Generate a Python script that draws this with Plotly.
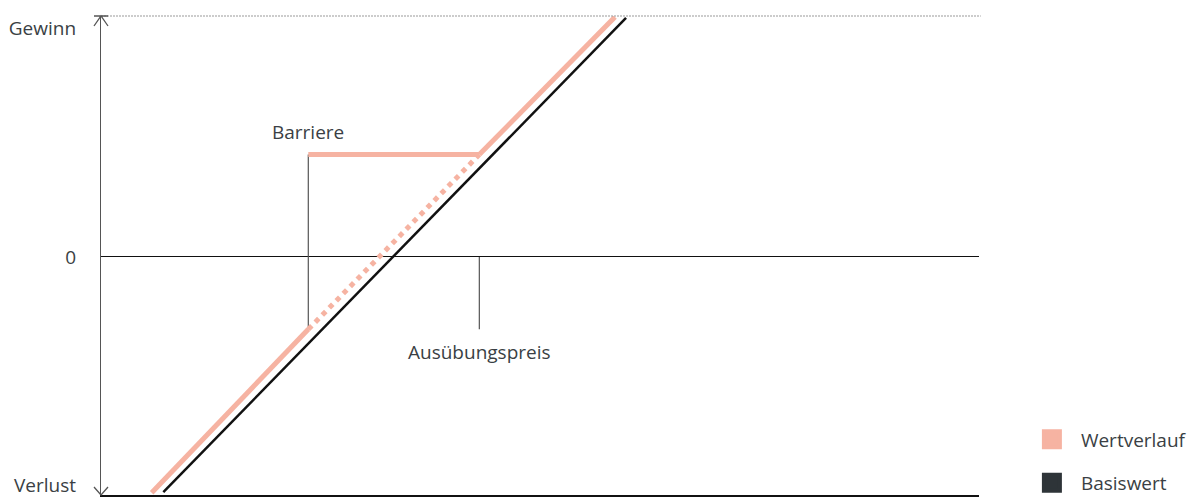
import plotly.graph_objects as go

# ---- data (abstract units: x = underlying price, y = profit/loss) ----
basis_x = [7.10, 59.8]
basis_y = [-97.6, 99.2]

wert_lower_x = [5.77, 23.61]
wert_lower_y = [-97.8, -30.0]
wert_dotted_x = [23.61, 43.09]
wert_dotted_y = [-30.0, 42.5]
wert_cap_x = [23.61, 43.09]
wert_cap_y = [42.5, 42.5]
wert_upper_x = [43.09, 58.54]
wert_upper_y = [42.5, 99.6]

barrier_x = 23.61
barrier_level = 42.5
knock_level = -30.0
strike_x = 43.09

y_tickvals = [-94.8, 0, 95.0]
y_ticktext = ["Verlust", "0", "Gewinn"]

series_names = ["Wertverlauf", "Basiswert"]

PINK = "#F6B3A2"
DARK = "#2E3438"
TEXT = "#3A3F44"
GREY = "#555555"
FONT = "Open Sans"
FS = 19

fig = go.Figure()

# marker lines (barrier / strike)
fig.add_trace(go.Scatter(x=[barrier_x, barrier_x], y=[knock_level, barrier_level], mode="lines",
                         line=dict(color=GREY, width=1.2), showlegend=False, hoverinfo="skip"))
fig.add_trace(go.Scatter(x=[strike_x, strike_x], y=[0, knock_level], mode="lines",
                         line=dict(color=GREY, width=1.2), showlegend=False, hoverinfo="skip"))

# Wertverlauf
for xs, ys, dash in [(wert_lower_x, wert_lower_y, "solid"),
                     (wert_dotted_x, wert_dotted_y, "dot"),
                     (wert_cap_x, wert_cap_y, "solid"),
                     (wert_upper_x, wert_upper_y, "solid")]:
    fig.add_trace(go.Scatter(x=xs, y=ys, mode="lines", line=dict(color=PINK, width=5, dash=dash),
                             showlegend=False, name=series_names[0], cliponaxis=False))

# Basiswert
fig.add_trace(go.Scatter(x=basis_x, y=basis_y, mode="lines", line=dict(color="#111111", width=2.5),
                         showlegend=False, name=series_names[1], cliponaxis=False))

# legend entries
for i, (nm, col) in enumerate(zip(series_names, [PINK, DARK])):
    fig.add_trace(go.Scatter(x=[None], y=[None], mode="markers", name=nm, legendgroup=nm,
                             marker=dict(symbol="square", size=16, color=col, line=dict(color=col, width=4))))

# labels
fig.add_annotation(x=barrier_x, y=barrier_level, text="Barriere", showarrow=False,
                   yanchor="bottom", yshift=8, font=dict(family=FONT, size=FS, color=TEXT))
fig.add_annotation(x=strike_x, y=knock_level, text="Ausübungspreis", showarrow=False,
                   yanchor="top", yshift=-8, font=dict(family=FONT, size=FS, color=TEXT))

# top dotted reference line
fig.add_shape(type="line", xref="paper", yref="paper", x0=0, x1=1.002, y0=1, y1=1,
              line=dict(color="#999999", width=1, dash="2px,1px"))
# arrow heads on y axis
fig.add_shape(type="path", xref="paper", yref="paper", xsizemode="pixel", ysizemode="pixel",
              xanchor=0, yanchor=1, path="M-7,-10 L0,0 L7,-10 M-7,0 L7,0",
              line=dict(color=GREY, width=1.3))
fig.add_shape(type="path", xref="paper", yref="paper", xsizemode="pixel", ysizemode="pixel",
              xanchor=0, yanchor=0, path="M-7,8 L0,0 L7,8",
              line=dict(color=GREY, width=1.3))

fig.update_layout(
    width=1189, height=498,
    margin=dict(l=101, r=210, t=16, b=3, autoexpand=False),
    paper_bgcolor="white", plot_bgcolor="white",
    font=dict(family=FONT, size=FS, color=TEXT),
    xaxis=dict(range=[0, 100], showgrid=False, zeroline=False, showticklabels=False,
               showline=True, linecolor="#111111", linewidth=1.5, ticks=""),
    yaxis=dict(range=[-98.76, 100], showgrid=False, zeroline=True, zerolinecolor="#111111",
               zerolinewidth=1, showline=True, linecolor=GREY, linewidth=1.3,
               tickvals=y_tickvals, ticktext=y_ticktext, ticks="", ticklabelstandoff=20,
               ticklabeloverflow="allow",
               tickfont=dict(family=FONT, size=FS, color=TEXT)),
    legend=dict(x=1.050, xanchor="left", y=0.156, yanchor="top", tracegroupgap=16,
                itemwidth=48,
                font=dict(family=FONT, size=FS, color=TEXT), bgcolor="rgba(0,0,0,0)"),
    showlegend=True,
)

fig.write_html("out.html", config={"displayModeBar": False},
               post_script="document.body.style.margin='0';document.body.style.overflow='hidden';")
